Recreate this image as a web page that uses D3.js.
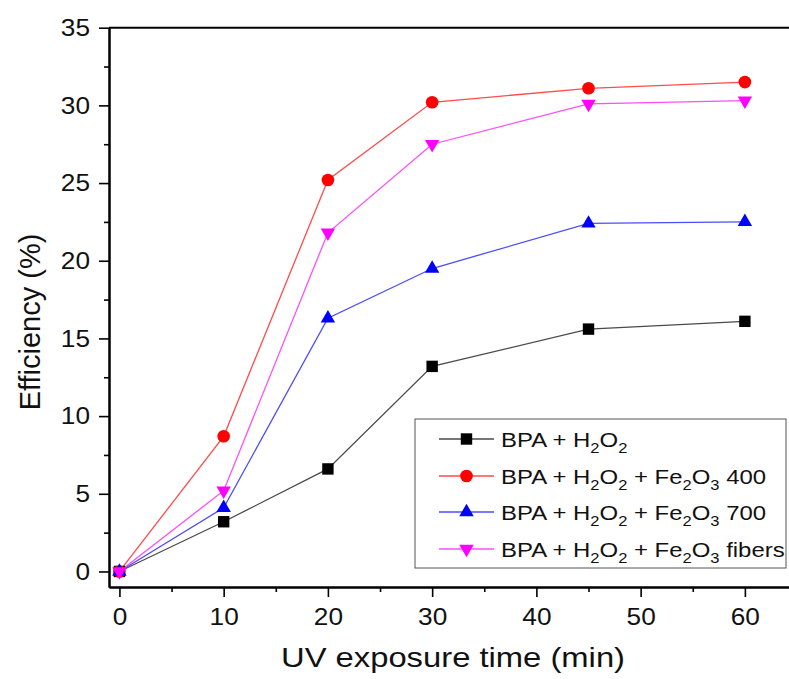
<!DOCTYPE html>
<html>
<head>
<meta charset="utf-8">
<script src="https://cdn.jsdelivr.net/npm/d3@7"></script>
<style>
  body { margin: 0; background: #fff; }
  svg { display: block; font-family: "Liberation Sans", Arial, sans-serif; }
</style>
</head>
<body>
<svg id="chart"></svg>
<script>
// data
const times = [0, 10, 20, 30, 45, 60];
const bpaH2O2 = [0, 3.2, 6.6, 13.2, 15.6, 16.1];
const fe400 = [0, 8.7, 25.2, 30.2, 31.1, 31.5];
const fe700 = [0, 4.1, 16.3, 19.5, 22.4, 22.5];
const feFibers = [0, 5.2, 21.8, 27.5, 30.1, 30.3];

const seriesNames = ["BPA + H_2O_2", "BPA + H_2O_2 + Fe_2O_3 400", "BPA + H_2O_2 + Fe_2O_3 700", "BPA + H_2O_2 + Fe_2O_3 fibers"];
const xTicks = [0, 10, 20, 30, 40, 50, 60];
const xMinor = [5, 15, 25, 35, 45, 55, 65];
const yTicks = [0, 5, 10, 15, 20, 25, 30, 35];
const yMinor = [2.5, 7.5, 12.5, 17.5, 22.5, 27.5, 32.5];

const width = 789, height = 679;
const plotLeft = 109, plotRight = 797, plotTop = 27.7, plotBottom = 587;
const stretch = 1.07; // the figure's text is a bit wide

const svg = d3.select("#chart").attr("width", width).attr("height", height);

const x = d3.scaleLinear().domain([-1, 65]).range([plotLeft, plotRight]);
const y = d3.scaleLinear().domain([-1, 35]).range([plotBottom, plotTop]);

// series styling
const series = [
  { name: seriesNames[0], values: bpaH2O2, line: "#4a4a4a", fill: "#000", sym: d3.symbolSquare, size: 130, rot: 0 },
  { name: seriesNames[1], values: fe400, line: "#ff4c4c", fill: "#ff0000", sym: d3.symbolCircle, size: 125, rot: 0 },
  { name: seriesNames[2], values: fe700, line: "#4c4cff", fill: "#0000ff", sym: d3.symbolTriangle, size: 90, rot: 0 },
  { name: seriesNames[3], values: feFibers, line: "#ff4cff", fill: "#ff00ff", sym: d3.symbolTriangle, size: 90, rot: 180 }
];

// axes
const yMajor = svg.append("g").attr("transform", `translate(${plotLeft},0)`)
  .call(d3.axisLeft(y).tickValues(yTicks).tickSize(10).tickSizeOuter(0).tickPadding(8));
const yMin = svg.append("g").attr("transform", `translate(${plotLeft},0)`)
  .call(d3.axisLeft(y).tickValues(yMinor).tickSize(5).tickSizeOuter(0).tickFormat(""));
const xMajor = svg.append("g").attr("transform", `translate(0,${plotBottom})`)
  .call(d3.axisBottom(x).tickValues(xTicks).tickSize(10).tickSizeOuter(0).tickPadding(11));
const xMin = svg.append("g").attr("transform", `translate(0,${plotBottom})`)
  .call(d3.axisBottom(x).tickValues(xMinor).tickSize(5).tickSizeOuter(0).tickFormat(""));

[yMajor, yMin, xMajor, xMin].forEach(g => {
  g.select(".domain").attr("stroke", "#000").attr("stroke-width", 2);
  g.selectAll(".tick line").attr("stroke", "#000").attr("stroke-width", 1.6);
  g.selectAll("text").attr("font-size", 24.5).attr("fill", "#111")
    .attr("font-family", "Liberation Sans, Arial, sans-serif");
});
yMajor.selectAll("text").attr("x", -19 / stretch).attr("transform", `scale(${stretch},1)`);
xMajor.selectAll("text").attr("transform", `scale(${stretch},1)`);

// top frame line
svg.append("line").attr("x1", plotLeft).attr("x2", plotRight).attr("y1", plotTop).attr("y2", plotTop)
  .attr("stroke", "#000").attr("stroke-width", 2);

// axis titles
svg.append("text")
  .attr("transform", `translate(453,667) scale(1.17,1)`)
  .attr("text-anchor", "middle").attr("font-size", 28).attr("fill", "#111")
  .text("UV exposure time (min)");
svg.append("text")
  .attr("transform", `translate(40,322) rotate(-90)`)
  .attr("text-anchor", "middle").attr("font-size", 29).attr("fill", "#111")
  .text("Efficiency (%)");

// lines and markers
const line = d3.line().x((d, i) => x(times[i])).y(d => y(d));
series.forEach(s => {
  svg.append("path").datum(s.values)
    .attr("d", line).attr("fill", "none")
    .attr("stroke", s.line).attr("stroke-width", 1.3);
});
series.forEach(s => {
  svg.append("g").selectAll("path").data(s.values).enter().append("path")
    .attr("d", d3.symbol().type(s.sym).size(s.size))
    .attr("transform", (d, i) => `translate(${x(times[i])},${y(d)}) rotate(${s.rot})`)
    .attr("fill", s.fill);
});

// legend
function addLabel(sel, str) {
  const parts = str.split(/_(\d)/);
  parts.forEach((p, i) => {
    if (i % 2 === 1) {
      sel.append("tspan").attr("dy", 6).attr("font-size", 14.5).text(p);
    } else if (p) {
      sel.append("tspan").attr("dy", i > 0 ? -6 : 0).text(p);
    }
  });
}

const legend = svg.append("g");
legend.append("rect").attr("x", 415).attr("y", 419).attr("width", 371).attr("height", 149)
  .attr("fill", "#fff").attr("stroke", "#555").attr("stroke-width", 1);
const rowY = [439, 476, 512, 549];
series.forEach((s, i) => {
  legend.append("line").attr("x1", 439).attr("x2", 494).attr("y1", rowY[i]).attr("y2", rowY[i])
    .attr("stroke", s.line).attr("stroke-width", 1.3);
  legend.append("path").attr("d", d3.symbol().type(s.sym).size(s.size))
    .attr("transform", `translate(466.5,${rowY[i]}) rotate(${s.rot})`).attr("fill", s.fill);
  const t = legend.append("text")
    .attr("transform", `translate(501,${rowY[i] + 7.5}) scale(1.14,1)`)
    .attr("font-size", 21).attr("fill", "#111");
  addLabel(t, s.name);
});
</script>
</body>
</html>
